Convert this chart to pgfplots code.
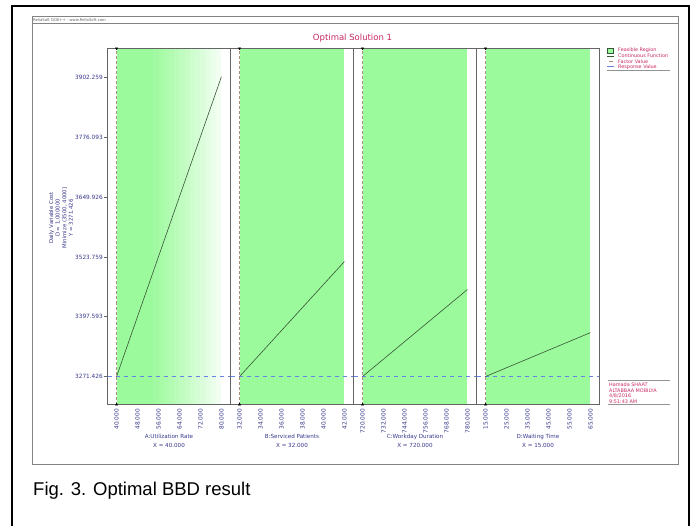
\documentclass[border=0pt]{standalone}
\usepackage{fontspec}
\setmainfont{DejaVu Sans}
\newfontfamily\arial{Liberation Sans}
\usepackage{pgfplots}
\pgfplotsset{compat=1.18}
\definecolor{feas}{RGB}{155,250,155}
\definecolor{navy}{RGB}{55,55,140}
\definecolor{crim}{RGB}{200,40,100}
\definecolor{fline}{RGB}{55,85,55}
\definecolor{respc}{RGB}{105,130,230}
\definecolor{factc}{RGB}{170,145,125}
\definecolor{frm}{RGB}{100,100,100}
\pgfplotsset{
  panel/.style={
    scale only axis, width=123pt, height=356pt, anchor=south west,
    ymin=3212.36, ymax=3963.44, clip=false, axis on top,
    axis line style={draw=frm, line width=0.5pt, -},
    xtick pos=bottom, ytick pos=left,
    tick align=outside, major tick length=3.5pt,
    xtick style={draw=none},
    ytick style={draw=frm, line width=0.5pt},
    x tick label style={font=\fontsize{5.8}{6}\selectfont, text=navy, rotate=90, anchor=east, inner sep=1pt,
      /pgf/number format/.cd, fixed, fixed zerofill, precision=3, 1000 sep={}, assume math mode=true},
    y tick label style={font=\fontsize{5.8}{6}\selectfont, text=navy, inner sep=1pt},
    xlabel style={font=\fontsize{5.6}{8.5}\selectfont, text=navy, align=center,
      at={(axis description cs:0.5,-0.075)}, anchor=north},
  },
  leftonly/.style={axis y line*=left, y axis line style={-}},
  fl/.style={draw=fline, line width=0.6pt},
  fv/.style={draw=factc, line width=0.9pt, dash pattern=on 3pt off 2pt},
  rv/.style={draw=respc, line width=1pt, dash pattern=on 4.5pt off 3.5pt},
  tmk/.style={only marks, black, mark=triangle*, mark size=1.3pt},
}
\begin{document}
\begin{tikzpicture}[x=1pt,y=1pt]
\useasboundingbox (0,0) rectangle (698,525);
% frames
\draw[line width=2.2pt] (12,-5) -- (12,519) -- (689,519) -- (689,-5);
\draw[frm!80, line width=0.6pt] (32.5,60.5) rectangle (678.5,508.5);
\draw[frm!80, line width=0.4pt] (32.5,501.5) -- (678.5,501.5);
\node[anchor=west, inner sep=0pt, font=\fontsize{3.8}{4}\selectfont, text=frm] at (33,504.5) {ReliaSoft DOE++ - www.ReliaSoft.com};
\node[text=crim, font=\fontsize{8.5}{9}\selectfont] at (352.5,487) {Optimal Solution 1};

% Panel A
\begin{axis}[panel, leftonly, at={(107.5pt,120.5pt)}, xmin=36.54, xmax=83.46, xtick={40,48,...,80},
  ytick={3271.426,3397.593,3523.759,3649.926,3776.093,3902.259},
  yticklabels={3271.426,3397.593,3523.759,3649.926,3776.093,3902.259},
  xlabel={A:Utilization Rate\\X = 40.000}]
\addplot[draw=none, fill=feas] coordinates {(40,3212.36) (54.1,3212.36) (54.1,3963.44) (40,3963.44)};
\addplot[draw=none, fill=feas!94!white] coordinates {(54,3212.36) (56.1,3212.36) (56.1,3963.44) (54,3963.44)};
\addplot[draw=none, fill=feas!88!white] coordinates {(56,3212.36) (58.1,3212.36) (58.1,3963.44) (56,3963.44)};
\addplot[draw=none, fill=feas!82!white] coordinates {(58,3212.36) (60.1,3212.36) (60.1,3963.44) (58,3963.44)};
\addplot[draw=none, fill=feas!76!white] coordinates {(60,3212.36) (62.1,3212.36) (62.1,3963.44) (60,3963.44)};
\addplot[draw=none, fill=feas!70!white] coordinates {(62,3212.36) (64.1,3212.36) (64.1,3963.44) (62,3963.44)};
\addplot[draw=none, fill=feas!63!white] coordinates {(64,3212.36) (66.1,3212.36) (66.1,3963.44) (64,3963.44)};
\addplot[draw=none, fill=feas!56!white] coordinates {(66,3212.36) (68.1,3212.36) (68.1,3963.44) (66,3963.44)};
\addplot[draw=none, fill=feas!49!white] coordinates {(68,3212.36) (70.1,3212.36) (70.1,3963.44) (68,3963.44)};
\addplot[draw=none, fill=feas!42!white] coordinates {(70,3212.36) (72.1,3212.36) (72.1,3963.44) (70,3963.44)};
\addplot[draw=none, fill=feas!35!white] coordinates {(72,3212.36) (74.1,3212.36) (74.1,3963.44) (72,3963.44)};
\addplot[draw=none, fill=feas!28!white] coordinates {(74,3212.36) (76.1,3212.36) (76.1,3963.44) (74,3963.44)};
\addplot[draw=none, fill=feas!20!white] coordinates {(76,3212.36) (78.1,3212.36) (78.1,3963.44) (76,3963.44)};
\addplot[draw=none, fill=feas!12!white] coordinates {(78,3212.36) (80,3212.36) (80,3963.44) (78,3963.44)};
\addplot[rv] coordinates {(36.54,3271.426) (83.46,3271.426)};
\addplot[fv] coordinates {(40,3212.36) (40,3963.44)};
\addplot[fl] coordinates {(40,3271.426) (80,3904)};
\addplot[tmk] coordinates {(40,3212.36)};
\addplot[tmk, mark options={rotate=180}] coordinates {(40,3963.44)};
\end{axis}

% Panel B
\begin{axis}[panel, leftonly, at={(230.5pt,120.5pt)}, xmin=31.135, xmax=42.865, xtick={32,34,...,42}, ytick=\empty,
  xlabel={B:Serviced Patients\\X = 32.000}]
\addplot[draw=none, fill=feas] coordinates {(32,3212.36) (42,3212.36) (42,3963.44) (32,3963.44)};
\addplot[rv] coordinates {(31.135,3271.426) (42.865,3271.426)};
\addplot[fv] coordinates {(32,3212.36) (32,3963.44)};
\addplot[fl] coordinates {(32,3271.426) (42,3514)};
\addplot[tmk] coordinates {(32,3212.36)};
\addplot[tmk, mark options={rotate=180}] coordinates {(32,3963.44)};
\end{axis}

% Panel C
\begin{axis}[panel, leftonly, at={(353.5pt,120.5pt)}, xmin=714.81, xmax=785.19, xtick={720,732,...,780}, ytick=\empty,
  xlabel={C:Workday Duration\\X = 720.000}]
\addplot[draw=none, fill=feas] coordinates {(720,3212.36) (780,3212.36) (780,3963.44) (720,3963.44)};
\addplot[rv] coordinates {(714.81,3271.426) (785.19,3271.426)};
\addplot[fv] coordinates {(720,3212.36) (720,3963.44)};
\addplot[fl] coordinates {(720,3271.426) (780,3455)};
\addplot[tmk] coordinates {(720,3212.36)};
\addplot[tmk, mark options={rotate=180}] coordinates {(720,3963.44)};
\end{axis}

% Panel D
\begin{axis}[panel, at={(476.5pt,120.5pt)}, xmin=10.67, xmax=69.33, xtick={15,25,...,65}, ytick=\empty,
  xlabel={D:Waiting Time\\X = 15.000}]
\addplot[draw=none, fill=feas] coordinates {(15,3212.36) (65,3212.36) (65,3963.44) (15,3963.44)};
\addplot[rv] coordinates {(10.67,3271.426) (69.33,3271.426)};
\addplot[fv] coordinates {(15,3212.36) (15,3963.44)};
\addplot[fl] coordinates {(15,3271.426) (65,3364)};
\addplot[tmk] coordinates {(15,3212.36)};
\addplot[tmk, mark options={rotate=180}] coordinates {(15,3963.44)};
\end{axis}

% y label
\node[rotate=90, align=center, text=navy, font=\fontsize{5.4}{6.6}\selectfont] at (61,307) {Daily Variable Cost\\D = 1.000000\\Minimize (3500, 4000]\\Y = 3271.426};

% legend
\begin{scope}[font=\fontsize{4.9}{5}\selectfont]
\fill[feas, draw=fline, line width=0.5pt] (607.5,472) rectangle (613.5,476.5);
\node[anchor=west, inner sep=0pt, text=crim] at (618,474.5) {Feasible Region};
\draw[fline, line width=0.8pt] (607,468.5) -- (614,468.5);
\node[anchor=west, inner sep=0pt, text=crim] at (618,469) {Continuous Function};
\draw[factc, line width=0.9pt] (608.5,463.5) -- (612.5,463.5);
\node[anchor=west, inner sep=0pt, text=crim] at (618,463.5) {Factor Value};
\draw[respc, line width=1pt] (607,458) -- (614,458);
\node[anchor=west, inner sep=0pt, text=crim] at (618,458) {Response Value};
\draw[frm!70, line width=0.4pt] (607,454.5) -- (670,454.5);
\end{scope}

% stamp
\begin{scope}[font=\fontsize{4.9}{5}\selectfont]
\draw[frm!70, line width=0.4pt] (608,144.5) -- (670,144.5);
\node[anchor=west, inner sep=0pt, text=crim] at (609,140) {Hamada SHAAT};
\node[anchor=west, inner sep=0pt, text=crim] at (609,134.5) {ALTABBAA MOBILYA};
\node[anchor=west, inner sep=0pt, text=crim] at (609,129) {4/8/2016};
\node[anchor=west, inner sep=0pt, text=crim] at (609,123.5) {9:51:43 AM};
\draw[frm!70, line width=0.4pt] (608,120.5) -- (670,120.5);
\end{scope}

% caption
\node[anchor=base west, inner sep=0pt, font=\arial\fontsize{18.5}{19}\selectfont] at (33,30) {Fig. 3. Optimal BBD result};
\end{tikzpicture}
\end{document}
